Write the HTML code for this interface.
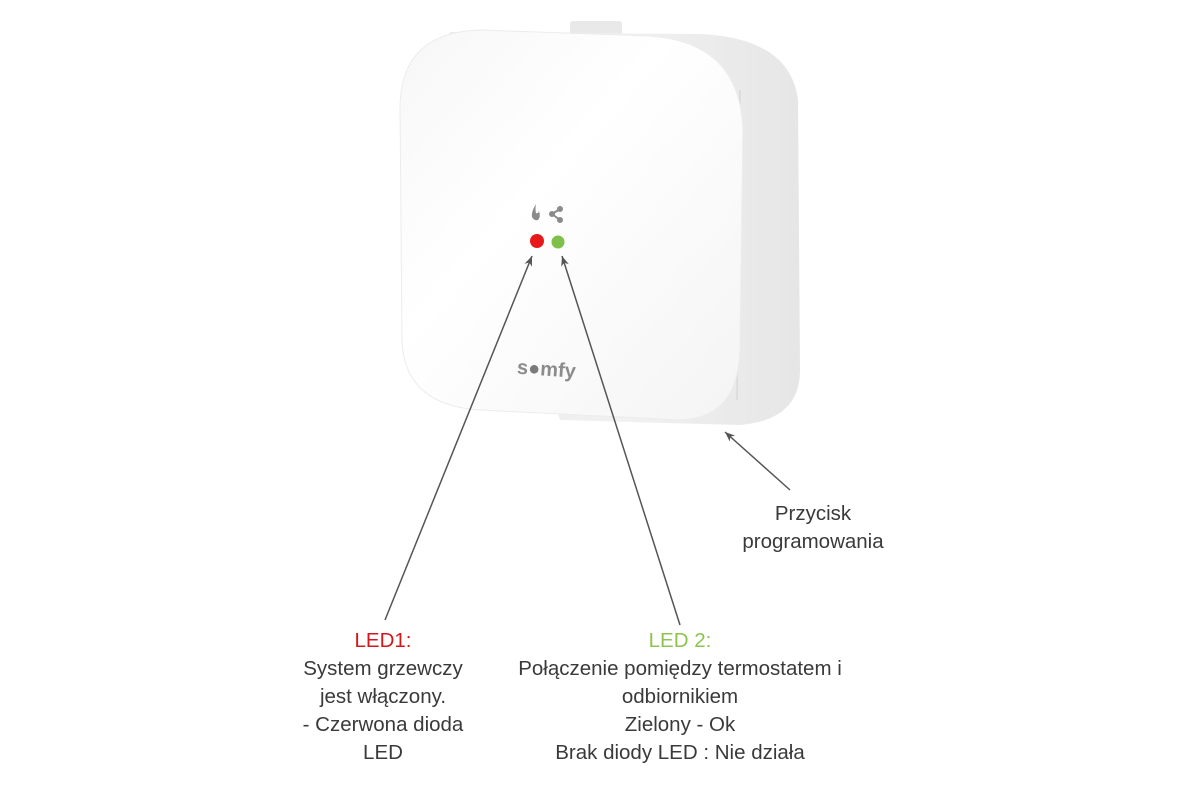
<!DOCTYPE html>
<html><head><meta charset="utf-8">
<style>
html,body{margin:0;padding:0;background:#fff;}
body{width:1200px;height:800px;position:relative;overflow:hidden;font-family:"Liberation Sans",sans-serif;}
.t{position:absolute;color:#3a3a3a;font-size:20.5px;line-height:28px;text-align:center;white-space:nowrap;}
</style></head><body>
<svg width="1200" height="800" style="position:absolute;left:0;top:0">
<defs>
<linearGradient id="side" x1="0" y1="0" x2="1" y2="0">
<stop offset="0" stop-color="#ebebeb"/><stop offset="0.5" stop-color="#f1f1f1"/><stop offset="1" stop-color="#e6e6e6"/>
</linearGradient>
<linearGradient id="front" x1="0" y1="0" x2="1" y2="1">
<stop offset="0" stop-color="#f7f7f7"/><stop offset="0.4" stop-color="#ffffff"/><stop offset="1" stop-color="#f4f4f4"/>
</linearGradient>
<marker id="ah" markerWidth="12" markerHeight="10" refX="10" refY="5" orient="auto" markerUnits="userSpaceOnUse">
<path d="M0,1 L10,5 L0,9 L3,5 Z" fill="#555"/>
</marker>
</defs>
<rect x="570" y="21" width="52" height="14" rx="3" fill="#e9e9e9"/>
<path d="M450,32 L700,34 Q790,38 798,100 L800,370 Q800,420 740,425 L560,420 Z" fill="url(#side)"/>
<line x1="740" y1="90" x2="737" y2="400" stroke="#d6d6d6" stroke-width="1.2"/>
<path d="M480,30 L650,36 Q740,42 743,130 L740,350 Q738,418 680,420 L480,410 Q404,405 402,340 L400,105 Q402,32 480,30 Z" fill="url(#front)" stroke="#ececec" stroke-width="1"/>
<path d="M536,204 Q531,212 532,217 Q534,221 538,220 Q541,217 539,211 Q538,214 536,213 Q535,209 536,204 Z" fill="#8a8a8a"/>
<g stroke="#8a8a8a" stroke-width="2" fill="#8a8a8a">
<line x1="560" y1="209" x2="552" y2="214"/><line x1="552" y1="214" x2="560" y2="220"/>
<circle cx="560" cy="209" r="2"/><circle cx="552" cy="214" r="2"/><circle cx="560" cy="220" r="2"/>
</g>
<circle cx="537" cy="241" r="7" fill="#e8191a"/>
<circle cx="558" cy="242" r="6.5" fill="#7ec04a"/>
<text x="517" y="376" font-family="Liberation Sans,sans-serif" font-size="20" font-weight="bold" fill="#8c8c8c" transform="rotate(4 550 370)">s<tspan fill="#7a7a7a">●</tspan>mfy</text>
<line x1="385" y1="620" x2="532" y2="256" stroke="#555" stroke-width="1.5" marker-end="url(#ah)"/>
<line x1="680" y1="625" x2="562" y2="256" stroke="#555" stroke-width="1.5" marker-end="url(#ah)"/>
<line x1="790" y1="490" x2="725" y2="432" stroke="#555" stroke-width="1.5" marker-end="url(#ah)"/>
</svg>
<div class="t" style="left:683px;top:500px;width:260px;">Przycisk<br>programowania</div>
<div class="t" style="left:253px;top:627px;width:260px;"><span style="color:#d4171b">LED1:</span><br>System grzewczy<br>jest włączony.<br>- Czerwona dioda<br>LED</div>
<div class="t" style="left:480px;top:627px;width:400px;"><span style="color:#8cc44f">LED 2:</span><br>Połączenie pomiędzy termostatem i<br>odbiornikiem<br>Zielony - Ok<br>Brak diody LED : Nie działa</div>
</body></html>
